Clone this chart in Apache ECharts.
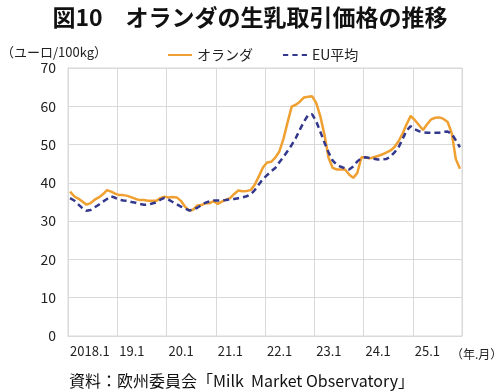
<!DOCTYPE html>
<html><head><meta charset="utf-8">
<script src="https://cdn.jsdelivr.net/npm/echarts@6/dist/echarts.min.js"></script>
<style>html,body{margin:0;padding:0;background:#fff}#c{width:500px;height:392px}</style>
</head><body><div id="c"></div>
<script>
var years = [2018, 2019, 2020, 2021, 2022, 2023, 2024, 2025];
var tickLabels = ['2018.1', '19.1', '20.1', '21.1', '22.1', '23.1', '24.1', '25.1'];
var netherlands = [
 37.7, 36.5, 35.9, 35.1, 34.3, 34.7, 35.6, 36.2, 37.0, 38.1, 37.7, 37.2,
 36.8, 36.8, 36.6, 36.2, 35.8, 35.5, 35.5, 35.3, 35.3, 35.3, 36.0, 36.4,
 36.2, 36.3, 36.2, 35.3, 33.8, 32.8, 33.0, 34.1, 34.2, 34.7, 34.7, 35.2,
 34.5, 35.1, 35.6, 36.0, 37.1, 38.0, 37.8, 37.9, 38.1, 39.5, 41.7, 44.0,
 45.3, 45.5, 46.6, 48.2, 51.5, 55.8, 59.9, 60.4, 61.2, 62.3, 62.5, 62.6,
 60.8, 57.3, 52.5, 46.5, 43.9, 43.5, 43.5, 43.5, 42.2, 41.3, 42.6, 46.7,
 46.6, 46.4, 46.7, 47.0, 47.4, 47.9, 48.4, 49.3, 50.8, 52.8, 55.3, 57.5,
 56.4, 55.1, 53.8, 55.3, 56.6, 57.0, 57.1, 56.7, 55.9, 53.0, 46.2, 43.7
];
var euAverage = [
 36.0, 35.4, 34.4, 33.4, 32.7, 32.9, 33.6, 34.3, 35.1, 35.8, 36.5, 36.1,
 35.6, 35.4, 35.3, 35.0, 34.8, 34.5, 34.3, 34.3, 34.6, 34.9, 35.6, 36.1,
 35.6, 35.0, 34.4, 33.8, 33.3, 32.8, 33.0, 33.5, 34.2, 34.8, 35.2, 35.4,
 35.4, 35.4, 35.5, 35.7, 35.8, 36.0, 36.2, 36.5, 37.0, 38.1, 39.6, 41.0,
 42.0, 43.0, 43.9, 45.4, 46.8, 48.3, 49.9, 51.7, 53.9, 56.0, 57.7, 57.9,
 56.0, 53.3, 50.5, 47.9, 45.8, 44.7, 44.2, 43.8, 43.5, 44.3, 45.6, 46.5,
 46.7, 46.5, 46.3, 46.1, 46.1, 46.2, 46.8, 47.9, 49.2, 51.4, 53.7, 54.8,
 54.0, 53.5, 53.2, 53.1, 53.1, 53.1, 53.1, 53.3, 53.4, 52.8, 51.1, 49.3
];
var months = [];
years.forEach(function (y) { for (var m = 1; m <= 12; m++) months.push(y + '.' + m); });

var font = '"Noto Sans CJK JP", "Noto Sans", sans-serif';
var chart = echarts.init(document.getElementById('c'));
chart.setOption({
  animation: false,
  textStyle: { fontFamily: font },
  title: [
    { text: '図10　オランダの生乳取引価格の推移', left: 'center', top: 1,
      textStyle: { fontSize: 23, fontWeight: 'bold', color: '#111', fontFamily: font } },
    { text: '（ユーロ/100kg）', left: -4, top: 41,
      textStyle: { fontSize: 13, fontWeight: 'normal', color: '#222', fontFamily: font } },
    { text: '（年.月）', left: 446, top: 343,
      textStyle: { fontSize: 12, fontWeight: 'normal', color: '#222', fontFamily: font } },
    { text: '資料：欧州委員会「Milk  Market Observatory」', left: 64, top: 368,
      textStyle: { fontSize: 16, fontWeight: 'normal', color: '#111', fontFamily: font } }
  ],
  legend: {
    top: 43, left: 163, itemGap: 30, itemWidth: 24, itemHeight: 12,
    textStyle: { fontSize: 14, color: '#222', fontFamily: font },
    data: [
      { name: 'オランダ', icon: 'path://M0,5 L24,5 L24,7 L0,7 Z' },
      { name: 'EU平均', icon: 'path://M0,5 L5,5 L5,7 L0,7 Z M9,5 L14,5 L14,7 L9,7 Z M18,5 L23,5 L23,7 L18,7 Z' }
    ]
  },
  grid: { left: 68, right: 38, top: 68, bottom: 56, show: true, borderColor: '#d9d9d9', borderWidth: 1 },
  xAxis: {
    type: 'category', data: months, boundaryGap: true,
    axisLine: { lineStyle: { color: '#d9d9d9' } },
    axisTick: { show: false },
    splitLine: { show: true, interval: 11, lineStyle: { color: '#d9d9d9', width: 1 } },
    axisLabel: {
      interval: 11, align: 'left', margin: 9, fontSize: 13, color: '#222',
      formatter: function (v, i) { return tickLabels[Math.round(i / 12)]; }
    }
  },
  yAxis: {
    type: 'value', min: 0, max: 70, interval: 10,
    axisLine: { show: true, lineStyle: { color: '#d9d9d9' } },
    axisTick: { show: false },
    splitLine: { lineStyle: { color: '#d9d9d9', width: 1 } },
    axisLabel: { margin: 12, fontSize: 14, color: '#222' }
  },
  series: [
    { name: 'オランダ', type: 'line', data: netherlands, symbol: 'none', color: '#F0A030',
      lineStyle: { width: 2.5, color: '#F0A030' }, z: 3 },
    { name: 'EU平均', type: 'line', data: euAverage, symbol: 'none', color: '#33388C',
      lineStyle: { width: 2.5, color: '#33388C', type: [6, 4] }, z: 4 }
  ]
});
</script></body></html>
